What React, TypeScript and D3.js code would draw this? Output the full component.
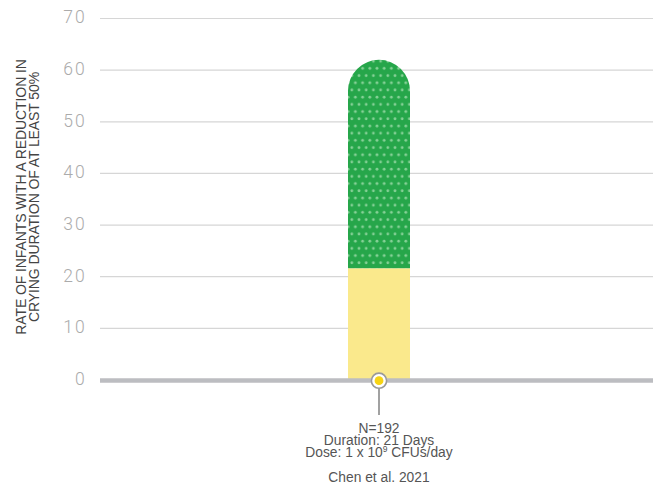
import React from "react";
import * as d3 from "d3";

// Study data
const categories = ["Chen et al. 2021"];
const baseValues = [21.6]; // lower (yellow) segment
const totalValues = [62]; // top of the green segment
const yTicks = [0, 10, 20, 30, 40, 50, 60, 70];
const studyNotes = ["N=192", "Duration: 21 Days"];
const yTitleLines = ["RATE OF INFANTS WITH A REDUCTION IN", "CRYING DURATION OF AT LEAST 50%"];

const W = 653;
const H = 486;

export default function App() {
  const x = d3.scaleBand<string>().domain(categories).range([100, 658]).paddingInner(0).paddingOuter(0);
  const y = d3.scaleLinear().domain([0, 70]).range([380, 18.5]);
  const barW = 62;

  const barPath = (x0: number, x1: number, yBottom: number, yTop: number) => {
    const r = (x1 - x0) / 2;
    const p = d3.path();
    p.moveTo(x0, yBottom);
    p.lineTo(x0, yTop + r);
    p.arc(x0 + r, yTop + r, r, Math.PI, 0);
    p.lineTo(x1, yBottom);
    p.closePath();
    return p.toString();
  };

  const tickFont = "Roboto, 'Open Sans', sans-serif";
  const textFont = "'Liberation Sans', Arial, sans-serif";

  return (
    <svg width={W} height={H} style={{ position: "absolute", left: 0, top: 0, background: "#fff" }}>
      <defs>
        <pattern id="dots" patternUnits="userSpaceOnUse" width={7.2} height={14.4} x={350} y={0}>
          <rect width={7.2} height={14.4} fill="#26a64a" />
          <circle cx={1.8} cy={3.6} r={1.4} fill="#86d197" />
          <circle cx={5.4} cy={10.8} r={1.4} fill="#86d197" />
        </pattern>
      </defs>

      {/* grid lines and tick labels */}
      {yTicks.filter((t) => t !== 0).map((t) => (
        <line key={`g${t}`} x1={100} x2={W} y1={y(t)} y2={y(t)} stroke="#d6d6d6" strokeWidth={1.2} />
      ))}
      {yTicks.map((t) => (
        <text
          key={`t${t}`}
          x={87}
          y={y(t) - 1.5}
          dy="0.36em"
          textAnchor="end"
          fontFamily={tickFont}
          fontWeight={300}
          fontSize={17.5}
          letterSpacing={2.2}
          fill="#ababab"
        >
          {t}
        </text>
      ))}

      {/* y-axis title */}
      <g transform={`translate(25.5, 197) rotate(-90)`}>
        {yTitleLines.map((line, i) => (
          <text
            key={i}
            x={0}
            y={i * 13.5}
            textAnchor="middle"
            fontFamily={textFont}
            fontSize={14}
            letterSpacing={-0.1}
            fill="#444"
          >
            {line}
          </text>
        ))}
      </g>

      {/* bars */}
      {categories.map((c, i) => {
        const cx = (x(c) as number) + x.bandwidth() / 2;
        const x0 = cx - barW / 2;
        const x1 = cx + barW / 2;
        return (
          <g key={c}>
            <path d={barPath(x0, x1, y(baseValues[i]), y(totalValues[i]))} fill="url(#dots)" />
            <rect x={x0} y={y(baseValues[i])} width={barW} height={y(0) - y(baseValues[i])} fill="#fae98c" />
          </g>
        );
      })}

      {/* baseline */}
      <line x1={100} x2={W} y1={380.5} y2={380.5} stroke="#bcbdc1" strokeWidth={4.5} />

      {/* category marker and notes */}
      {categories.map((c) => {
        const cx = (x(c) as number) + x.bandwidth() / 2;
        return (
          <g key={`m${c}`}>
            <line x1={cx} x2={cx} y1={388} y2={415} stroke="#8a8a8a" strokeWidth={1.6} />
            <circle cx={cx} cy={380.7} r={7.6} fill="#fff" stroke="#9a9a9a" strokeWidth={1.6} />
            <circle cx={cx} cy={380.7} r={4.4} fill="#f7d414" />
            <g fontFamily={textFont} fontSize={13.8} fill="#555" textAnchor="middle">
              {studyNotes.map((n, k) => (
                <text key={k} x={cx} y={433 + k * 12}>
                  {n}
                </text>
              ))}
              <text x={cx} y={457}>
                {"Dose: 1 x 10"}
                <tspan fontSize={8.5} dy={-5.5}>9</tspan>
                <tspan dy={5.5}>{" CFUs/day"}</tspan>
              </text>
              <text x={cx} y={481.5}>
                {c}
              </text>
            </g>
          </g>
        );
      })}
    </svg>
  );
}
